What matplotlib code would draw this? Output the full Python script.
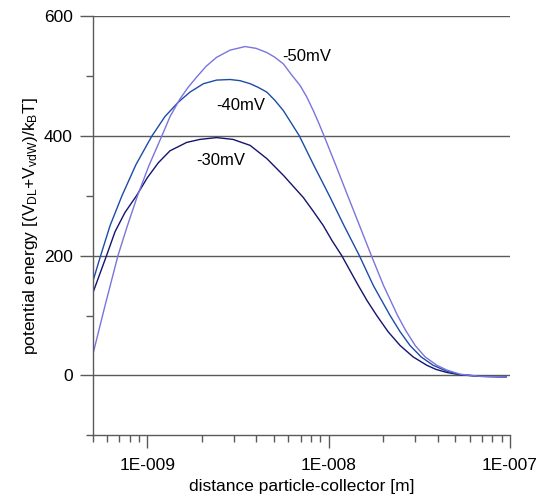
import math

import matplotlib
matplotlib.use("Agg")
import matplotlib.pyplot as plt
from matplotlib.ticker import FixedLocator, FuncFormatter, LogLocator, MultipleLocator, NullFormatter

plt.rcParams["font.family"] = ["Liberation Sans", "DejaVu Sans"]
plt.rcParams["mathtext.fontset"] = "custom"
plt.rcParams["mathtext.rm"] = "Liberation Sans"
plt.rcParams["mathtext.it"] = "Liberation Sans"

# distance particle-collector [m] and potential energy [kT]
dist_30 = [5.0e-10, 5.48e-10, 5.96e-10, 6.64e-10, 7.53e-10, 8.72e-10, 1.0e-9, 1.15e-9,
           1.334e-9, 1.65e-9, 1.95e-9, 2.41e-9, 2.97e-9, 3.69e-9, 4.56e-9, 5.63e-9,
           7.25e-9, 8.23e-9, 9.35e-9, 1.044e-8, 1.181e-8, 1.312e-8, 1.458e-8, 1.628e-8,
           1.842e-8, 2.127e-8, 2.477e-8, 2.921e-8, 3.476e-8, 3.912e-8, 4.48e-8, 5.31e-8,
           6.84e-8, 9.52e-8]
energy_30 = [137, 170, 200, 240, 272, 300, 330, 355,
             375, 389, 394, 397, 394, 384, 362, 334,
             297, 274, 250, 225, 200, 175, 150, 125,
             100, 73, 50, 31, 17, 10, 5, 1,
             -1.5, -2.5]

dist_40 = [5.0e-10, 5.53e-10, 6.23e-10, 7.25e-10, 8.66e-10, 1.057e-9, 1.25e-9, 1.48e-9,
           1.72e-9, 2.04e-9, 2.41e-9, 2.86e-9, 3.25e-9, 3.69e-9, 4.08e-9, 4.56e-9,
           5.06e-9, 5.63e-9, 6.20e-9, 6.89e-9, 8.31e-9, 1.009e-8, 1.216e-8, 1.477e-8,
           1.764e-8, 2.182e-8, 2.477e-8, 2.81e-8, 3.233e-8, 3.766e-8, 4.48e-8, 5.31e-8,
           6.84e-8, 9.52e-8]
energy_40 = [156, 200, 250, 300, 352, 399, 432, 456,
             473, 487, 493, 494, 492, 487, 481, 473,
             459, 442, 422, 400, 350, 300, 250, 200,
             150, 100, 73, 50, 31, 17, 7, 1.5,
             -1.5, -2.5]

dist_50 = [5.0e-10, 5.84e-10, 6.89e-10, 7.73e-10, 8.83e-10, 1.02e-9, 1.20e-9, 1.334e-9,
           1.51e-9, 1.68e-9, 1.87e-9, 2.11e-9, 2.41e-9, 2.86e-9, 3.46e-9, 3.98e-9,
           4.56e-9, 5.06e-9, 5.63e-9, 6.20e-9, 6.96e-9, 7.57e-9, 8.23e-9, 8.80e-9,
           9.43e-9, 1.098e-8, 1.274e-8, 1.481e-8, 1.72e-8, 2.008e-8, 2.4e-8, 2.66e-8,
           3.0e-8, 3.402e-8, 3.948e-8, 4.48e-8, 5.31e-8, 6.84e-8, 9.52e-8]
energy_50 = [34, 116, 200, 248, 300, 350, 399, 432,
             461, 481, 498, 516, 531, 543, 549, 546,
             539, 531, 520, 503, 484, 465, 442, 422,
             400, 350, 300, 250, 200, 150, 100, 75,
             50, 31, 17, 9, 2, -1.5, -2.5]

series = [
    ("-30mV", dist_30, energy_30, "#14146e", (2.55e-9, 359)),
    ("-40mV", dist_40, energy_40, "#1c4ca6", (3.29e-9, 450)),
    ("-50mV", dist_50, energy_50, "#7a74dc", (7.57e-9, 532)),
]

fig = plt.figure(figsize=(5.4, 4.97), dpi=100)
ax = fig.add_axes([0.1717, 0.1241, 0.7727, 0.8437])

for label, x, y, color, text_pos in series:
    ax.plot(x, y, color=color, linewidth=1.0)
    ax.text(text_pos[0], text_pos[1], label, fontsize=12, ha="center", va="center")

ax.set_xscale("log")
ax.set_xlim(5e-10, 1e-7)
ax.set_ylim(-100, 600)

ax.xaxis.set_major_locator(FixedLocator([1e-9, 1e-8, 1e-7]))
ax.xaxis.set_major_formatter(FuncFormatter(lambda v, _: "1E-%03d" % round(-math.log10(v))))
ax.xaxis.set_minor_locator(LogLocator(base=10, subs=range(2, 10)))
ax.xaxis.set_minor_formatter(NullFormatter())

ax.yaxis.set_major_locator(MultipleLocator(200))
ax.yaxis.set_minor_locator(MultipleLocator(100))

ax.grid(True, axis="y", which="major", color="#5a5a5a", linewidth=1.0)
ax.set_axisbelow(True)

for side in ["top", "right"]:
    ax.spines[side].set_visible(False)
for side in ["left", "bottom"]:
    ax.spines[side].set_color("#5a5a5a")
    ax.spines[side].set_linewidth(1.0)

ax.tick_params(which="major", direction="out", length=9.5, width=1.0, color="#5a5a5a", labelsize=12.5)
ax.tick_params(which="minor", direction="out", length=5, width=1.0, color="#5a5a5a")
ax.tick_params(axis="x", which="major", pad=7)
ax.tick_params(axis="y", which="major", pad=5)

ax.set_xlabel("distance particle-collector [m]", fontsize=12.5, labelpad=4)
ax.set_ylabel(r"potential energy [(V$_{\rm DL}$+V$_{\rm vdW}$)/k$_{\rm B}$T]", fontsize=12.5, labelpad=3)

fig.savefig("out.png", dpi=100)
